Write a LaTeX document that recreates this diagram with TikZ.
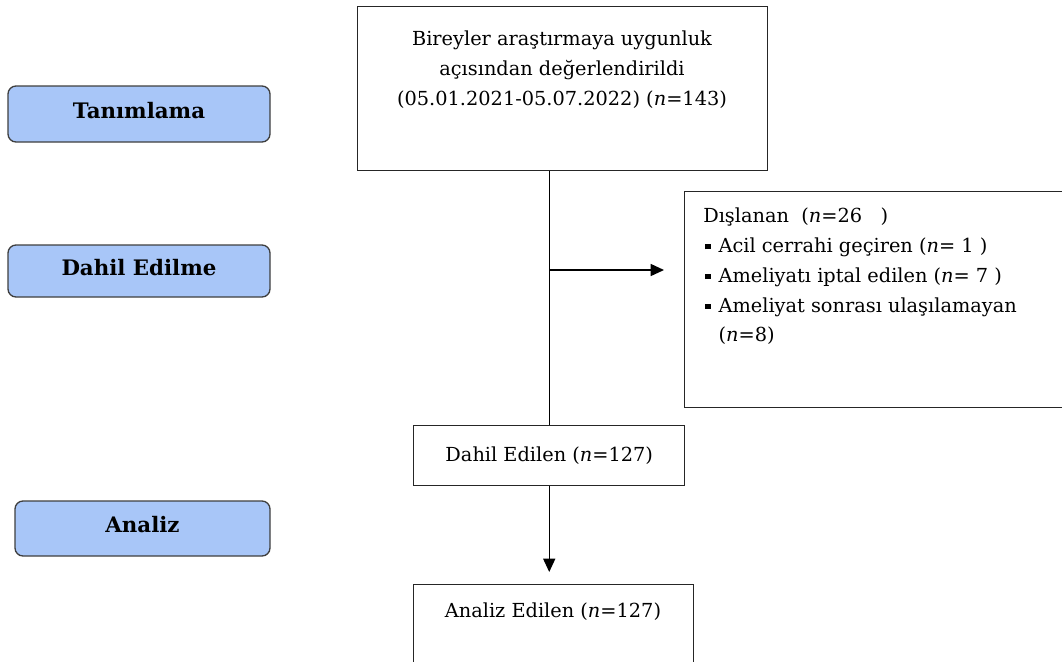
\documentclass[tikz,border=0pt]{standalone}
\usepackage{fontspec}
\setmainfont{DejaVu Serif}
\usetikzlibrary{arrows.meta}
\definecolor{lblue}{HTML}{A8C6F8}
\definecolor{bord}{HTML}{3F3F3F}
\newcommand{\sqb}{\makebox[11.5pt][l]{\hspace{1.5pt}\raisebox{2.4pt}{\rule{4pt}{4pt}}}}
\begin{document}
\begin{tikzpicture}[x=0.75pt,y=-0.75pt,
  stage/.style={draw=bord, line width=1pt, fill=lblue, rounded corners=6pt,
    font=\fontsize{16}{19}\selectfont\bfseries, inner sep=0pt, text depth=6pt},
  plain/.style={draw=black!85, line width=1.1pt, inner sep=0pt},
  txt/.style={font=\fontsize{14.5}{22.3}\selectfont, inner sep=0pt},
  arr/.style={line width=1.1pt, -{Triangle[length=10pt,width=9pt]}},
  ln/.style={line width=1.1pt}]
\useasboundingbox (0,0) rectangle (1062,661);
\clip (0,0) rectangle (1062,661);
% stage labels
\node[stage, minimum width=196.5pt, minimum height=42pt] (tan) at (139,114) {Tanımlama};
\node[stage, minimum width=196.5pt, minimum height=39pt] (dah) at (139,271) {Dahil Edilme};
\node[stage, minimum width=191.25pt, minimum height=41.25pt] (ana) at (142.5,528.5) {Analiz};
% flow boxes
\node[plain, minimum width=307.5pt, minimum height=123pt, anchor=north west] (top) at (357,6) {};
\node[txt, align=center, anchor=north] (toptxt) at (562,31)
  {Bireyler araştırmaya uygunluk\\açısından değerlendirildi\\(05.01.2021-05.07.2022) (\textit{n}=143)};
\node[plain, minimum width=292.5pt, minimum height=162pt, anchor=north west] (exc) at (684,191) {};
\node[txt, align=left, anchor=north west] (exctxt) at (703,208)
  {Dışlanan~~(\textit{n}=26~~~)\\
   \sqb Acil cerrahi geçiren (\textit{n}= 1 )\\
   \sqb Ameliyatı iptal edilen (\textit{n}= 7 )\\
   \sqb Ameliyat sonrası ulaşılamayan\\
   \hspace*{11.5pt}(\textit{n}=8)};
\node[plain, minimum width=203.25pt, minimum height=45pt, anchor=north west,
  font=\fontsize{14.5}{18}\selectfont] (inc) at (413,425) {Dahil Edilen (\textit{n}=127)};
\node[plain, minimum width=210pt, minimum height=66pt, anchor=north west] (anl) at (413,584) {};
\node[txt, anchor=center] (anltxt) at (553,612) {Analiz Edilen (\textit{n}=127)};
% connectors
\coordinate (br) at (inc.north |- 0,270);
\coordinate (brend) at (664,270);
\coordinate (anlin) at (inc.south |- 0,572);
\draw[ln] (inc.north) -- (inc.north |- top.south);
\draw[arr] (br) -- (brend);
\draw[arr] (inc.south) -- (anlin);
\end{tikzpicture}
\end{document}
